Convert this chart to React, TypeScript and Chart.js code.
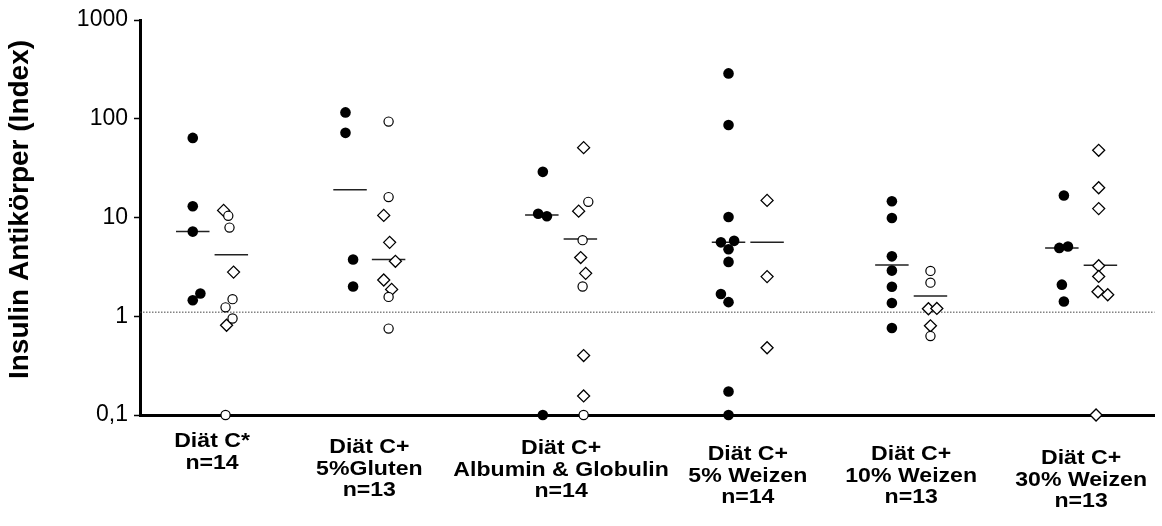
import React, { useEffect, useRef } from 'react';
import { Chart, registerables } from 'chart.js';

Chart.register(...registerables);

// ---------- data ----------
const categories: string[][] = [
  ['Diät C*', 'n=14'],
  ['Diät C+', '5%Gluten', 'n=13'],
  ['Diät C+', 'Albumin & Globulin', 'n=14'],
  ['Diät C+', '5% Weizen', 'n=14'],
  ['Diät C+', '10% Weizen', 'n=13'],
  ['Diät C+', '30% Weizen', 'n=13'],
];

const filledValues: number[][] = [
  [64, 13, 7.2, 1.7, 1.45],
  [116, 72, 3.75, 2.0],
  [29, 10.9, 10.3, 0.1],
  [288, 86.5, 10.1, 5.6, 5.8, 4.77, 3.55, 1.68, 1.39, 0.173, 0.1],
  [14.6, 9.9, 4.04, 2.9, 1.99, 1.36, 0.76],
  [16.7, 4.92, 5.08, 2.09, 1.41],
];

const openCircleValues: number[][] = [
  [10.4, 7.9, 1.49, 1.23, 0.95, 0.1],
  [93.6, 16.1, 1.57, 0.75],
  [14.4, 5.9, 2.0, 0.1],
  [],
  [2.88, 2.19, 0.63],
  [],
];

const openDiamondValues: number[][] = [
  [11.8, 2.8, 0.81],
  [10.5, 5.6, 3.6, 2.33, 1.87],
  [51, 11.6, 3.93, 2.72, 0.4, 0.156],
  [14.9, 2.52, 0.48],
  [1.19, 1.2, 0.8],
  [47.9, 20, 12.3, 3.25, 2.53, 1.77, 1.65, 0.1],
];

const filledMedians = [7.2, 19.1, 10.6, 5.6, 3.3, 4.9];
const openMedians = [4.2, 3.75, 6.07, 5.6, 1.6, 3.28];
const thresholdValue = 1.1;

const yTickValues = [0.1, 1, 10, 100, 1000];
const yTickLabels = ['0,1', '1', '10', '100', '1000'];
const yAxisTitle = 'Insulin Antikörper (Index)';

// ---------- layout (positions on a 0..100 x axis) ----------
const groupX = [7.1, 22.6, 41.5, 59.9, 76.0, 92.75];
const columnOffset = 1.9;
const medianHalfWidth = 1.65;

const filledJitter: number[][] = [
  [0, 0, 0, 0.75, 0],
  [-0.45, -0.45, 0.3, 0.3],
  [0.1, -0.36, 0.5, 0.1],
  [0, 0, 0, -0.75, 0.55, 0, 0, -0.75, 0, 0, 0],
  [0, 0, 0, 0, 0, 0, 0],
  [0.2, -0.25, 0.6, 0, 0.2],
];
const circleJitter: number[][] = [
  [-0.3, -0.18, 0.12, -0.57, 0.12, -0.57],
  [0, 0, 0, 0],
  [0.78, 0.22, 0.22, 0.32],
  [],
  [0, 0, 0],
  [],
];
const diamondJitter: number[][] = [
  [-0.76, 0.22, -0.47],
  [-0.48, 0.1, 0.67, -0.48, 0.3],
  [0.32, -0.17, 0.03, 0.52, 0.32, 0.32],
  [0, 0, 0],
  [-0.2, 0.63, 0],
  [-0.17, -0.17, -0.17, -0.17, -0.17, -0.24, 0.72, -0.43],
];

const labelDrop = [0, 6, 7, 13, 13, 17];
const FONT = '"Liberation Sans", Arial, Helvetica, sans-serif';

function points(values: number[][], jitter: number[][], side: number) {
  return values.flatMap((vals, g) =>
    vals.map((v, k) => ({ x: groupX[g] + side * columnOffset + jitter[g][k], y: v }))
  );
}

function medianSegments(meds: number[], side: number) {
  return meds.flatMap((m, g) => {
    const c = groupX[g] + side * columnOffset;
    return [
      { x: c - medianHalfWidth, y: m },
      { x: c + medianHalfWidth, y: m },
      { x: c + medianHalfWidth + 0.01, y: null as any },
    ];
  });
}

const textPlugin = {
  id: 'customText',
  afterDraw(chart: any) {
    const { ctx, chartArea, scales } = chart;
    const xs = scales.x;
    ctx.save();
    ctx.fillStyle = '#000';
    ctx.font = `bold 21px ${FONT}`;
    ctx.textAlign = 'center';
    ctx.textBaseline = 'alphabetic';
    categories.forEach((lines, i) => {
      const cx = xs.getPixelForValue(groupX[i]);
      lines.forEach((t, j) => {
        ctx.save();
        ctx.translate(cx, chartArea.bottom + 32 + labelDrop[i] + j * 21.5);
        ctx.scale(1.1, 1);
        ctx.fillText(t, 0, 0);
        ctx.restore();
      });
    });
    ctx.translate(28, (chartArea.top + chartArea.bottom) / 2 - 8);
    ctx.rotate(-Math.PI / 2);
    ctx.font = `bold 28px ${FONT}`;
    ctx.fillText(yAxisTitle, 0, 0);
    ctx.restore();
  },
};

export default function App() {
  const ref = useRef<HTMLCanvasElement>(null);

  useEffect(() => {
    if (!ref.current) return;
    const chart = new Chart(ref.current, {
      type: 'scatter',
      data: {
        datasets: [
          {
            label: 'filled',
            data: points(filledValues, filledJitter, -1),
            pointStyle: 'circle',
            pointRadius: 5.3,
            backgroundColor: '#000',
            borderColor: '#000',
            borderWidth: 0,
            clip: false as any,
            order: 0,
          },
          {
            label: 'open circles',
            data: points(openCircleValues, circleJitter, 1),
            pointStyle: 'circle',
            pointRadius: 4.6,
            backgroundColor: '#fff',
            borderColor: '#000',
            borderWidth: 1.2,
            clip: false as any,
            order: 1,
          },
          {
            label: 'open diamonds',
            data: points(openDiamondValues, diamondJitter, 1),
            pointStyle: 'rectRot',
            pointRadius: 6,
            backgroundColor: '#fff',
            borderColor: '#000',
            borderWidth: 1.3,
            clip: false as any,
            order: 2,
          },
          {
            label: 'median filled',
            data: medianSegments(filledMedians, -1) as any,
            showLine: true,
            spanGaps: false,
            pointRadius: 0,
            borderColor: '#222',
            borderWidth: 1.5,
            order: 3,
          },
          {
            label: 'median open',
            data: medianSegments(openMedians, 1) as any,
            showLine: true,
            spanGaps: false,
            pointRadius: 0,
            borderColor: '#222',
            borderWidth: 1.5,
            order: 4,
          },
          {
            label: 'threshold',
            data: [
              { x: 0, y: thresholdValue },
              { x: 100, y: thresholdValue },
            ],
            showLine: true,
            pointRadius: 0,
            borderColor: '#444',
            borderWidth: 1,
            borderDash: [1.5, 1.5],
            order: 5,
          },
        ],
      },
      options: {
        animation: false,
        responsive: false,
        devicePixelRatio: 1,
        layout: { padding: { top: 20, right: 2, bottom: 0, left: 0 } },
        plugins: {
          legend: { display: false },
          tooltip: { enabled: false },
        },
        scales: {
          x: {
            type: 'linear',
            min: 0,
            max: 100,
            ticks: { display: false },
            grid: { display: false },
            border: { display: true, color: '#000', width: 3 },
            afterFit: (scale: any) => {
              scale.height = 111;
            },
          },
          y: {
            type: 'logarithmic',
            min: 0.1,
            max: 1000,
            afterBuildTicks: (scale: any) => {
              scale.ticks = yTickValues.map((v) => ({ value: v }));
            },
            afterFit: (scale: any) => {
              scale.width = 140;
            },
            ticks: {
              color: '#000',
              padding: 6,
              font: { family: FONT, size: 23 },
              callback: (_v: any, i: number) => yTickLabels[i],
            },
            grid: {
              drawOnChartArea: false,
              drawTicks: true,
              tickLength: 6,
              tickColor: '#000',
              tickWidth: 1.5,
            },
            border: { display: true, color: '#000', width: 3 },
          },
        },
      },
      plugins: [textPlugin],
    });
    return () => chart.destroy();
  }, []);

  return (
    <div style={{ position: 'fixed', left: 0, top: 0, width: 1162, height: 526, background: '#fff' }}>
      <canvas ref={ref} width={1162} height={526} />
    </div>
  );
}
